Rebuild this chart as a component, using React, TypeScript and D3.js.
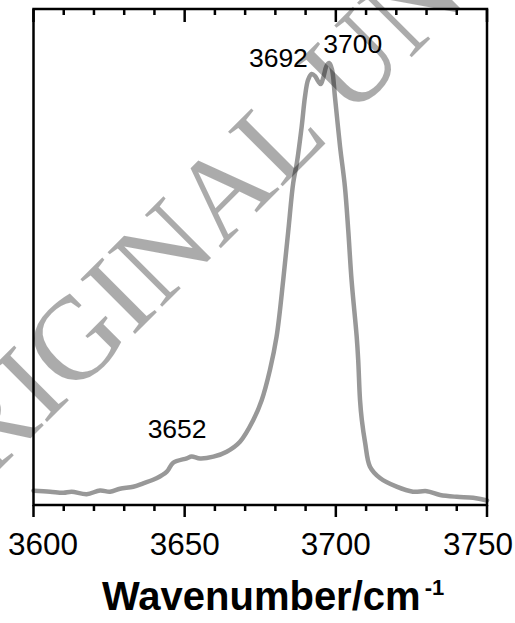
import React from 'react';
import * as d3 from 'd3';

// Spectrum (wavenumber in cm^-1, intensity in arbitrary units 0..1)
const wavenumbers = [
  3600.0, 3605.5, 3609.9, 3612.6, 3617.6, 3622.0, 3625.3, 3628.6, 3633.0, 3636.3,
  3640.7, 3644.1, 3646.2, 3650.7, 3652.3, 3655.1, 3659.5, 3663.9, 3668.3, 3672.7,
  3675.5, 3678.2, 3680.4, 3682.6, 3684.3, 3685.9, 3687.1, 3688.7, 3689.8, 3690.8,
  3692.0, 3693.1, 3694.1, 3695.0, 3695.9, 3696.9, 3697.8, 3698.7, 3699.7, 3701.4,
  3703.0, 3704.1, 3705.2, 3706.9, 3707.4, 3708.0, 3708.6, 3709.7, 3711.3, 3714.6,
  3720.1, 3725.5, 3730.1, 3734.5, 3740.0, 3745.4, 3750.0,
];
const intensities = [
  0.0288, 0.0268, 0.0246, 0.0268, 0.0218, 0.0292, 0.0268, 0.0327, 0.0369, 0.0437,
  0.0538, 0.0671, 0.0853, 0.0942, 0.0978, 0.0937, 0.0974, 0.1075, 0.1276, 0.1714,
  0.2117, 0.2722, 0.3393, 0.4536, 0.5544, 0.6492, 0.6895, 0.7627, 0.8232, 0.8569,
  0.8690, 0.8649, 0.8548, 0.8488, 0.8629, 0.8851, 0.8911, 0.8790, 0.8232, 0.7224,
  0.6417, 0.5544, 0.4536, 0.3393, 0.2923, 0.2117, 0.1714, 0.1250, 0.0772, 0.0544,
  0.0369, 0.0268, 0.0278, 0.0202, 0.0165, 0.0147, 0.0091,
];

const xTicks = [3600, 3650, 3700, 3750];
const xMinorTicks = d3.range(3600, 3751, 10);

const peakLabels = ['3652', '3692', '3700'];
const peakLabelX = [3647.5, 3681.0, 3705.6];
const peakLabelY = [0.135, 0.8837, 0.9107];

const watermark = 'ORIGINAL UNEDITED MANUSCRIPT';

export default function App() {
  const W = 515;
  const H = 623;
  const left = 33.5, right = 487, top = 9, bottom = 505;

  const x = d3.scaleLinear().domain([3600, 3750]).range([left, right]);
  const y = d3.scaleLinear().domain([0, 1]).range([bottom, top]);

  const data = wavenumbers.map((w, i) => [w, intensities[i]] as [number, number]);
  const line = d3
    .line<[number, number]>()
    .x((d) => x(d[0]))
    .y((d) => y(d[1]))
    .curve(d3.curveCatmullRom.alpha(0.5));

  const sans = "'Liberation Sans', Arial, Helvetica, sans-serif";
  const labelW = 70;

  return (
    <svg
      width={W}
      height={H}
      style={{ position: 'absolute', left: 0, top: 0, background: '#fff' }}
    >
      <rect x={0} y={0} width={W} height={H} fill="#fff" />

      {/* spectrum */}
      <path d={line(data) || ''} fill="none" stroke="#989898" strokeWidth={4.5} strokeLinejoin="round" strokeLinecap="round" />

      {/* frame */}
      <rect x={left} y={top} width={right - left} height={bottom - top} fill="none" stroke="#000" strokeWidth={2.5} />

      {/* top ticks (inward) */}
      {xMinorTicks.map((t) => {
        const major = t % 50 === 0;
        return (
          <line key={'tt' + t} x1={x(t)} x2={x(t)} y1={top} y2={top + (major ? 13 : 6)} stroke="#000" strokeWidth={2.5} />
        );
      })}
      {/* bottom ticks (outward) */}
      {xMinorTicks.map((t) => {
        const major = t % 50 === 0;
        return (
          <line key={'bt' + t} x1={x(t)} x2={x(t)} y1={bottom} y2={bottom + (major ? 12 : 6)} stroke="#000" strokeWidth={2.5} />
        );
      })}

      {/* tick labels */}
      {xTicks.map((t) => {
        const cx = Math.min(Math.max(x(t), 8 + labelW / 2), 513 - labelW / 2);
        return (
          <text
            key={'tl' + t}
            x={cx}
            y={555}
            textAnchor="middle"
            fontFamily={sans}
            fontSize={31.5}
            fill="#000"
          >
            {t}
          </text>
        );
      })}

      {/* peak annotations */}
      {peakLabels.map((s, i) => (
        <text key={'pl' + s} x={x(peakLabelX[i])} y={y(peakLabelY[i])} textAnchor="middle" fontFamily={sans} fontSize={26.5} fill="#000">
          {s}
        </text>
      ))}

      {/* axis title */}
      <text x={102} y={610} fontFamily={sans} fontWeight="bold" fontSize={40} fill="#000">
        Wavenumber/cm
        <tspan dx={4} dy={-15} fontSize={22}>-1</tspan>
      </text>

      {/* watermark */}
      <text
        transform="translate(-72,541) rotate(-45)"
        fontFamily="'Liberation Serif', 'Times New Roman', serif"
        fontSize={118}
        fill="#000"
        fillOpacity={0.33}
      >
        {watermark}
      </text>
    </svg>
  );
}
